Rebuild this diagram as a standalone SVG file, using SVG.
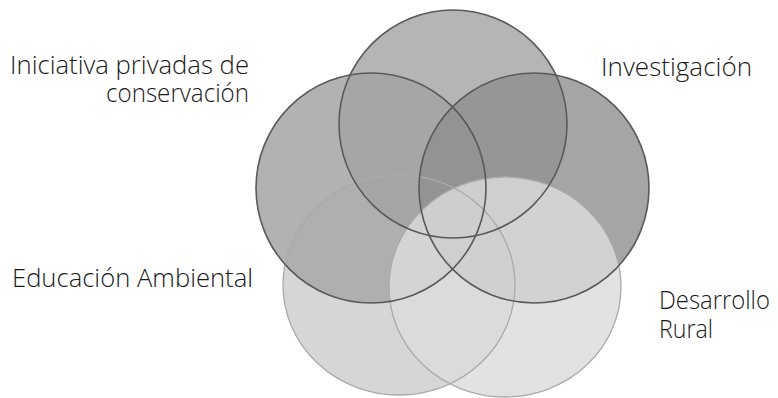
<svg xmlns="http://www.w3.org/2000/svg" width="778" height="398" viewBox="0 0 778 398">
<style>
.lbl{font-family:"Open Sans","Noto Sans","DejaVu Sans",sans-serif;font-weight:300;font-size:25px;fill:#1a1a1a}
.dk{fill:none;stroke:#5a5a5a;stroke-width:1.6}
.lt{fill:none;stroke:#aaa;stroke-width:1.3}
</style>
<rect width="778" height="398" fill="#fff"/>
<g id="fills">
<ellipse id="f-bl" cx="399" cy="285" rx="116" ry="110" fill="#d6d6d6"/>
<circle id="f-left" cx="371" cy="188" r="115" fill="#ababab" fill-opacity="0.92"/>
<circle id="f-top" cx="453" cy="124" r="114" fill="#a2a2a2" fill-opacity="0.8"/>
<circle id="f-right" cx="534" cy="188" r="115" fill="#8e8e8e" fill-opacity="0.8"/>
<ellipse id="f-br" cx="505" cy="287" rx="116" ry="110" fill="#dcdcdc" fill-opacity="0.82"/>
</g>
<g id="outlines">
<ellipse cx="399" cy="285" rx="116" ry="110" class="lt" stroke="#999"/>
<ellipse cx="505" cy="287" rx="116" ry="110" class="lt"/>
<circle cx="371" cy="188" r="115" class="dk"/>
<circle cx="453" cy="124" r="114" class="dk"/>
<circle cx="534" cy="188" r="115" class="dk"/>
</g>
<g id="label-iniciativa">
<text class="lbl" x="10" y="74" textLength="239" lengthAdjust="spacingAndGlyphs">Iniciativa privadas de</text>
<text class="lbl" x="106" y="102" textLength="143" lengthAdjust="spacingAndGlyphs">conservación</text>
</g>
<g id="label-investigacion">
<text class="lbl" x="601" y="76" textLength="151" lengthAdjust="spacingAndGlyphs">Investigación</text>
</g>
<g id="label-educacion">
<text class="lbl" x="12" y="287" textLength="241" lengthAdjust="spacingAndGlyphs">Educación Ambiental</text>
</g>
<g id="label-desarrollo">
<text class="lbl" x="659" y="309" textLength="111" lengthAdjust="spacingAndGlyphs">Desarrollo</text>
<text class="lbl" x="659" y="338" textLength="54" lengthAdjust="spacingAndGlyphs">Rural</text>
</g>
</svg>
